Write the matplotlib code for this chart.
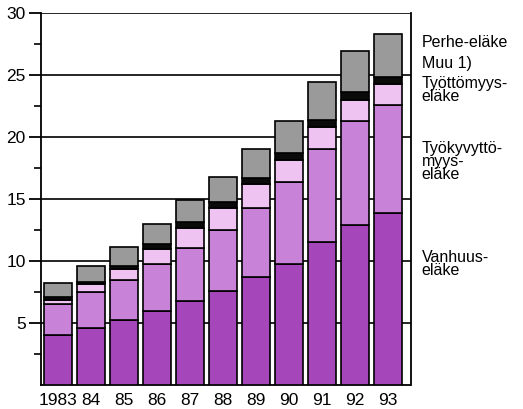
import matplotlib
matplotlib.use("Agg")
import matplotlib.pyplot as plt
import numpy as np

plt.rcParams['font.family'] = ['Liberation Sans', 'DejaVu Sans']

years = ["1983", "84", "85", "86", "87", "88", "89", "90", "91", "92", "93"]
vanhuus = [4.0, 4.63, 5.25, 5.98, 6.78, 7.56, 8.7, 9.76, 11.53, 12.9, 13.85]
tyokyvyttomyys = [2.5, 2.83, 3.18, 3.74, 4.29, 4.96, 5.6, 6.59, 7.49, 8.4, 8.73]
tyottomyys = [0.35, 0.68, 0.92, 1.25, 1.63, 1.73, 1.9, 1.8, 1.78, 1.65, 1.69]
muu = [0.21, 0.19, 0.27, 0.41, 0.45, 0.49, 0.47, 0.55, 0.6, 0.68, 0.59]
perhe = [1.14, 1.24, 1.51, 1.62, 1.75, 2.06, 2.33, 2.6, 3.0, 3.27, 3.44]

series = [
    ("Vanhuus-\neläke", vanhuus, "#a546bb", 9.75),
    ("Työkyvyttö-\nmyys-\neläke", tyokyvyttomyys, "#c883d8", 18.0),
    ("Työttömyys-\neläke", tyottomyys, "#eec3f2", 23.8),
    ("Muu 1)", muu, "#0a0a0a", 25.9),
    ("Perhe-eläke", perhe, "#9a9a9a", 27.6),
]

fig = plt.figure(figsize=(5.23, 4.09), dpi=100)
ax = fig.add_axes([41/523, 24/409, (410.5-41)/523, (385-13)/409])

x = np.arange(len(years))
bottom = np.zeros(len(years))
for label, vals, color, ty in series:
    ax.bar(x, vals, bottom=bottom, width=0.85, color=color, edgecolor="black",
           linewidth=1.2, zorder=3)
    bottom += np.array(vals)
    ax.text(1.03, ty, label, transform=ax.get_yaxis_transform(), fontsize=11.5,
            va="center", ha="left", linespacing=0.82, clip_on=False)

ax.set_xlim(-0.515, 10.68)
ax.set_ylim(0, 30)
major = [5, 10, 15, 20, 25, 30]
ax.set_yticks(major)
ax.set_yticks([2.5, 7.5, 12.5, 17.5, 22.5, 27.5], minor=True)
ax.set_xticks(x)
ax.set_xticklabels(years)
ax.tick_params(axis="y", which="major", direction="out", length=9, width=1.3,
               labelsize=12.5, pad=2)
ax.tick_params(axis="y", which="minor", direction="out", length=5, width=1.2)
ax.tick_params(axis="x", length=0, labelsize=12.5, pad=6)
ax.yaxis.grid(True, color="black", linewidth=1.2, zorder=0)
ax.set_axisbelow(True)
for side in ["left", "right", "bottom"]:
    ax.spines[side].set_linewidth(1.3)
ax.spines["top"].set_visible(False)

fig.savefig("out.png", dpi=100)
